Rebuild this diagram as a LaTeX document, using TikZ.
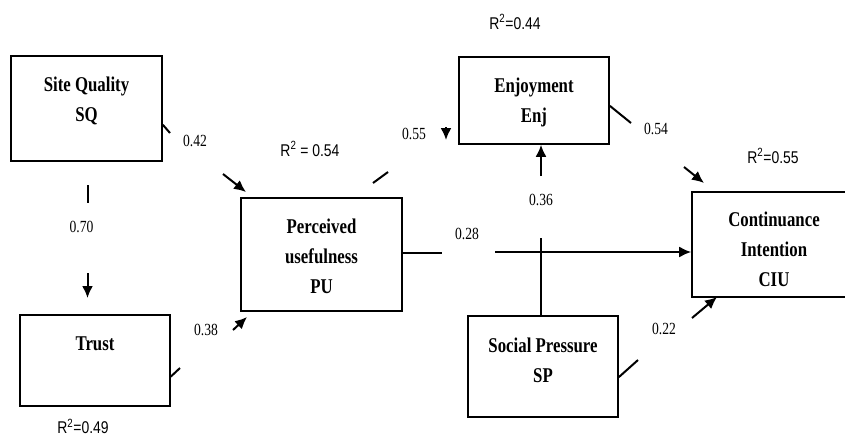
\documentclass[tikz,border=0pt]{standalone}
\usepackage{fontspec}
\setmainfont{Liberation Serif}[FakeStretch=0.8]
\newfontfamily\rsqfont{Liberation Sans}[FakeStretch=0.82]
\usetikzlibrary{arrows.meta,calc}

\begin{document}
\begin{tikzpicture}[x=1pt,y=-1pt,
  box/.style={draw, line width=1.6pt, inner sep=0pt},
  boxtext/.style={font=\fontsize{21}{30}\selectfont\bfseries, align=center, inner sep=0pt},
  coef/.style={font=\fontsize{17}{20}\selectfont, inner sep=0pt},
  rsq/.style={font=\rsqfont\fontsize{17}{20}\selectfont, inner sep=0pt},
  link/.style={line width=2pt},
  arr/.style={line width=2pt, -{Latex[length=12pt,width=11pt]}},
]
\useasboundingbox (0,0) rectangle (845,437);

% constructs
\node[box, minimum width=151pt, minimum height=105pt] (sq)    at (86.5,108.5) {};
\node[box, minimum width=150pt, minimum height=91pt]  (trust) at (95,360.5)   {};
\node[box, minimum width=161pt, minimum height=113pt] (pu)    at (321.5,254.5) {};
\node[box, minimum width=150pt, minimum height=87pt]  (enj)   at (534,100.5)  {};
\node[box, minimum width=150pt, minimum height=101pt] (sp)    at (543,366.5)  {};
\node[box, minimum width=164pt, minimum height=105pt] (ciu)   at (774,244.5)  {};

\node[boxtext] (sq-t)    at (86.5,101)  {Site Quality\\SQ};
\node[boxtext] (trust-t) at (95,344)    {Trust};
\node[boxtext] (pu-t)    at (321.5,256.5) {Perceived\\usefulness\\PU};
\node[boxtext] (enj-t)   at (534,102)   {Enjoyment\\Enj};
\node[boxtext] (sp-t)    at (543,360)   {Social Pressure\\SP};
\node[boxtext] (ciu-t)   at (774,249)   {Continuance\\Intention\\CIU};

% path segments (each path is broken where its coefficient sits)
\coordinate (sqpu-a) at (170,133);
\coordinate (sqpu-b) at (223,174);
\coordinate (sqpu-c) at (246,192);
\draw[link] (sq.-12) -- (sqpu-a);
\draw[arr] (sqpu-b) -- (sqpu-c);

\coordinate (sqtr-a) at (87.5,185);
\coordinate (sqtr-b) at (87.5,203);
\coordinate (sqtr-c) at (87.5,273);
\coordinate (sqtr-d) at (87.5,298);
\draw[link] (sqtr-a) -- (sqtr-b);
\draw[arr] (sqtr-c) -- (sqtr-d);

\coordinate (trpu-a) at (180,368);
\coordinate (trpu-b) at (233,330);
\coordinate (trpu-c) at (247,317);
\draw[link] (trust.-12) -- (trpu-a);
\draw[arr] (trpu-b) -- (trpu-c);

\coordinate (puenj-a) at (373,183);
\coordinate (puenj-b) at (388,172);
\coordinate (puenj-c) at (446,127);
\coordinate (puenj-d) at (446,140);
\draw[link] (puenj-a) -- (puenj-b);
\draw[arr] (puenj-c) -- (puenj-d);

\coordinate (enjciu-a) at (631,123);
\coordinate (enjciu-b) at (684,167);
\coordinate (enjciu-c) at (704,183);
\draw[link] (enj.-4) -- (enjciu-a);
\draw[arr] (enjciu-b) -- (enjciu-c);

\coordinate (spenj-a) at (541,238);
\coordinate (spenj-b) at (541,176);
\draw[link] (sp.north -| spenj-a) -- (spenj-a);
\draw[arr] (spenj-b) -- (enj.south -| spenj-b);

\coordinate (puciu-a) at (442,253);
\coordinate (puciu-b) at (495,252);
\draw[link] (pu.east |- puciu-a) -- (puciu-a);
\draw[arr] (puciu-b) -- (ciu.west |- puciu-b);

\coordinate (spciu-a) at (638,360);
\coordinate (spciu-b) at (692,318);
\coordinate (spciu-c) at (717,297);
\draw[link] (sp.-8) -- (spciu-a);
\draw[arr] (spciu-b) -- (spciu-c);

% path coefficients
\node[coef] (c-sqpu)   at (195,141) {0.42};
\node[coef] (c-sqtr)   at (81.5,227) {0.70};
\node[coef] (c-trpu)   at (206,330) {0.38};
\node[coef] (c-puenj)  at (414,134) {0.55};
\node[coef] (c-enjciu) at (656,129) {0.54};
\node[coef] (c-spenj)  at (541,200) {0.36};
\node[coef] (c-puciu)  at (467,234) {0.28};
\node[coef] (c-spciu)  at (664,329) {0.22};

% explained variance
\node[rsq] (r-enj)   at (515,22)  {R\textsuperscript{2}=0.44};
\node[rsq] (r-pu)    at (310,149) {R\textsuperscript{2} = 0.54};
\node[rsq] (r-ciu)   at (773,156) {R\textsuperscript{2}=0.55};
\node[rsq] (r-trust) at (83,426.5) {R\textsuperscript{2}=0.49};
\end{tikzpicture}
\end{document}
